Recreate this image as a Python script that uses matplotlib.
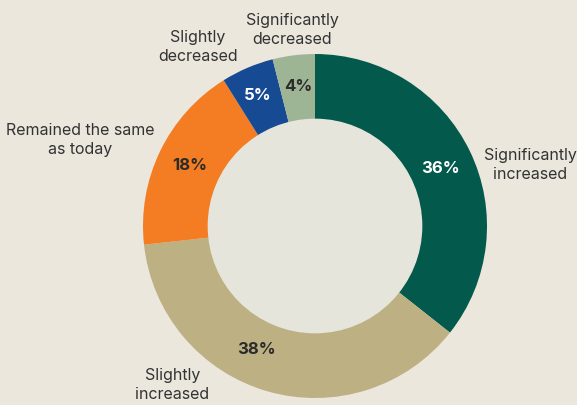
import matplotlib
matplotlib.use("Agg")
import matplotlib.pyplot as plt

# survey shares, clockwise from 12 o'clock
categories = ["Significantly\nincreased", "Slightly\nincreased", "Remained the same\nas today",
              "Slightly\ndecreased", "Significantly\ndecreased"]
shares = [36, 38, 18, 5, 4]
colors = ["#035a4c", "#bdb083", "#f47c22", "#164b94", "#9db595"]
pct_colors = ["white", "#2b2b2b", "#2b2b2b", "white", "#2b2b2b"]

# where the labels sit (axes data units, pie radius = 1)
pct_pos = [(0.727, 0.343), (-0.343, -0.715), (-0.727, 0.36), (-0.331, 0.762), (-0.099, 0.814)]
cat_pos = [(1.25, 0.36), (-0.83, -0.92), (-1.366, 0.506), (-0.68, 1.047), (-0.134, 1.145)]

bg = "#ebe7dd"
plt.rcParams["font.family"] = ["Inter", "DejaVu Sans"]

fig = plt.figure(figsize=(5.77, 4.06), dpi=100, facecolor=bg)
ax = fig.add_axes([143 / 577, 7 / 406, 344 / 577, 344 / 406])
ax.set_facecolor(bg)

ax.pie(shares, colors=colors, startangle=90, counterclock=False, radius=1,
       wedgeprops=dict(width=0.38, linewidth=0))
ax.add_patch(plt.Circle((0, 0), 0.62, color="#e6e5dc", zorder=3))

for val, (x, y), c in zip(shares, pct_pos, pct_colors):
    ax.text(x, y, f"{val}%", ha="center", va="center", fontsize=12,
            fontweight="bold", color=c, zorder=4)

for lab, (x, y) in zip(categories, cat_pos):
    ax.text(x, y, lab, ha="center", va="center", fontsize=11.5,
            color="#333333", linespacing=1.35, zorder=4)

ax.set_xlim(-1, 1)
ax.set_ylim(-1, 1)
ax.set_aspect("equal")
ax.axis("off")

fig.savefig("out.png", dpi=100, facecolor=bg)
